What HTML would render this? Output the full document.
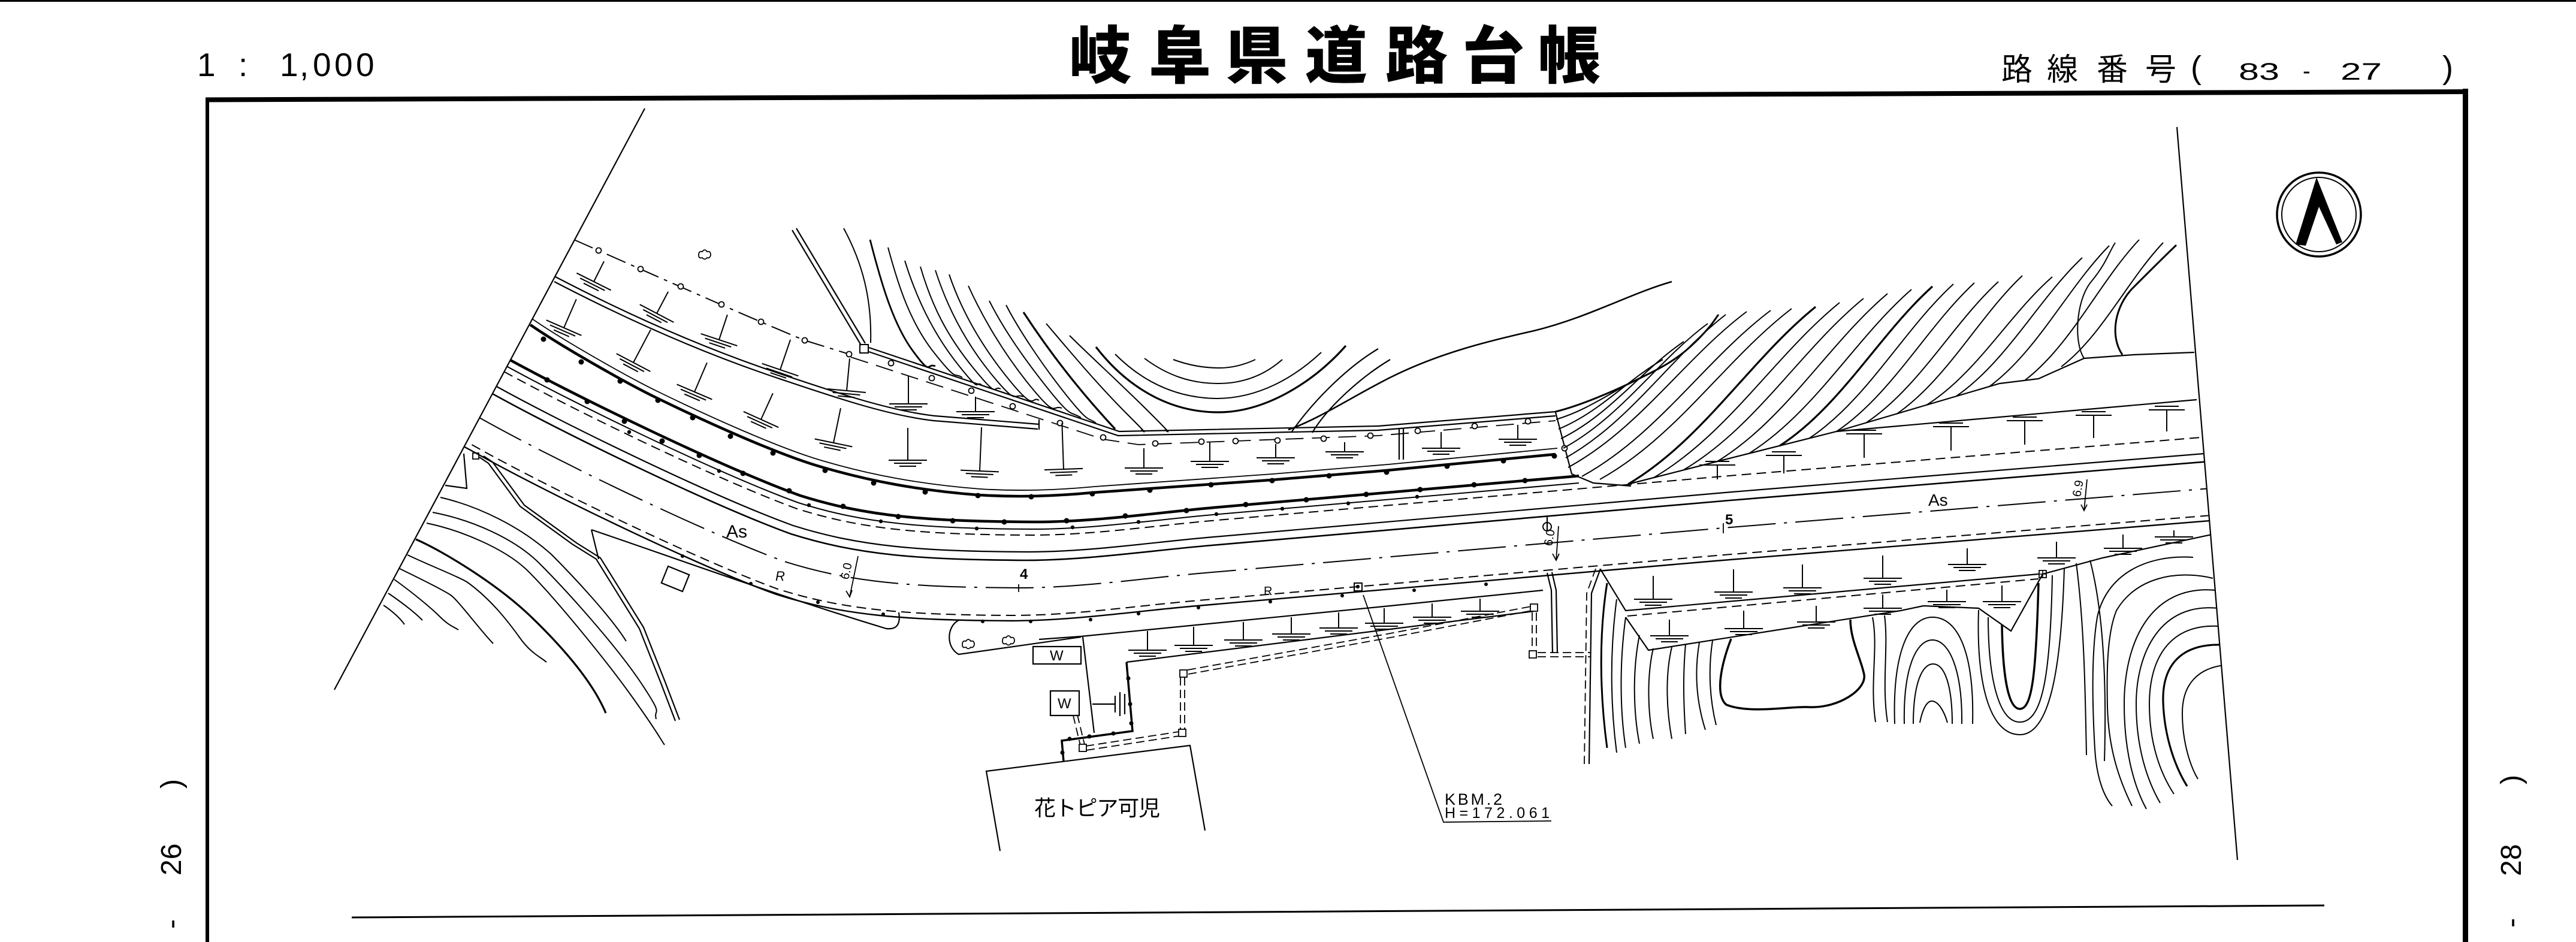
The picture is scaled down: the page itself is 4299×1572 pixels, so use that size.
<!DOCTYPE html>
<html><head><meta charset="utf-8">
<style>
html,body{margin:0;padding:0;background:#fff;width:4299px;height:1572px;overflow:hidden}
svg{display:block}
text{font-family:"Liberation Sans","Noto Sans CJK JP",sans-serif;fill:#000;stroke:none}
</style></head><body>
<svg width="4299" height="1572" viewBox="0 0 4299 1572" xmlns="http://www.w3.org/2000/svg" xmlns:xlink="http://www.w3.org/1999/xlink">
<defs>
<path id="cl" d="M600,590 L800,697 C930,770 1180,890 1309,937 C1420,972 1520,980 1700,981 C1800,981 1900,966 2000,957 L2876,881 L3800,806"/>
<clipPath id="cp"><polygon points="1119,100 3624,100 3739,1500 372,1500"/></clipPath>
<clipPath id="cpL"><rect x="0" y="0" width="2635" height="1572"/></clipPath>
</defs>
<rect width="4299" height="1572" fill="#fff"/>
<rect x="0" y="0" width="4299" height="3" fill="#000"/>

<!-- header -->
<text x="1784 1917 2045 2178 2312 2440 2567" y="130" font-size="104" font-weight="900">岐阜県道路台帳</text>
<text x="329 398 467 500 522 558 594" y="127" font-size="55">1:1,000</text>
<text x="3340 3416 3499 3580" y="134" font-size="52">路線番号</text>
<text x="3656" y="131" font-size="54">(</text>
<text x="3736" y="133" font-size="40" textLength="68" lengthAdjust="spacingAndGlyphs">83</text>
<text x="3843" y="131" font-size="38">-</text>
<text x="3906" y="133" font-size="40" textLength="69" lengthAdjust="spacingAndGlyphs">27</text>
<text x="4076" y="131" font-size="54">)</text>

<!-- frame -->
<g stroke="#000" fill="none">
<line x1="343" y1="166.5" x2="4119" y2="153" stroke-width="8"/>
<line x1="346" y1="163" x2="346" y2="1572" stroke-width="6"/>
<line x1="4114.5" y1="148" x2="4114.5" y2="1572" stroke-width="9"/>
<line x1="587" y1="1531" x2="3879" y2="1511" stroke-width="3"/>
<line x1="1076" y1="181" x2="558" y2="1151" stroke-width="2.2"/>
<line x1="3633" y1="212" x2="3734" y2="1435" stroke-width="2.2"/>
</g>

<text transform="translate(302,1560) rotate(-90)" font-size="48"><tspan x="10">-</tspan><tspan x="99">26</tspan><tspan x="244">)</tspan></text>
<text transform="translate(4207,1560) rotate(-90)" font-size="48"><tspan x="12">-</tspan><tspan x="98">28</tspan><tspan x="251">)</tspan></text>

<!-- north arrow -->
<g stroke="#000" fill="none">
<circle cx="3870" cy="358" r="70" stroke-width="3.5"/>
<circle cx="3870" cy="358" r="62" stroke-width="2"/>
</g>
<polygon points="3866,296 3909,404 3899,408 3870,345 3848,410 3831,408" fill="#000"/>

<g clip-path="url(#cp)" fill="none" stroke="#000" stroke-width="2.2">

<!-- road lines -->
<g clip-path="url(#cpL)">
<use href="#cl" xlink:href="#cl" transform="translate(26.4,-110)" stroke-width="4.5"/>
<use href="#cl" xlink:href="#cl" transform="translate(23.5,-98)" stroke-width="2"/>
</g>
<use href="#cl" xlink:href="#cl" transform="translate(21,-88)" stroke-width="2" stroke-dasharray="16 9"/>
<use href="#cl" xlink:href="#cl" transform="translate(14.4,-60)" stroke-width="2.2"/>
<use href="#cl" xlink:href="#cl" transform="translate(11,-46)" stroke-width="2.6"/>
<use href="#cl" xlink:href="#cl" stroke-width="2" stroke-dasharray="80 14 5 14"/>
<use href="#cl" xlink:href="#cl" transform="translate(-11,46)" stroke-width="2" stroke-dasharray="16 9"/>
<use href="#cl" xlink:href="#cl" transform="translate(-13.2,55)" stroke-width="2.4"/>

<!-- D dots -->
<g fill="#000" stroke="none">
<circle cx="913" cy="634" r="4.5"/><circle cx="980" cy="670" r="4.5"/><circle cx="1042" cy="703" r="4.5"/><circle cx="1105" cy="736" r="4.5"/><circle cx="1167" cy="760" r="4.5"/><circle cx="1240" cy="790" r="4.5"/><circle cx="1317" cy="819" r="4.5"/><circle cx="1407" cy="845" r="4.5"/><circle cx="1499" cy="862" r="4.5"/><circle cx="1590" cy="869" r="4.5"/><circle cx="1676" cy="871" r="4.5"/><circle cx="1780" cy="869" r="4.5"/><circle cx="1878" cy="861" r="4.5"/><circle cx="1980" cy="852" r="4.5"/><circle cx="2079" cy="842" r="4.5"/><circle cx="2180" cy="834" r="4.5"/><circle cx="2280" cy="825" r="4.5"/><circle cx="2370" cy="817" r="4.5"/><circle cx="2460" cy="809" r="4.5"/><circle cx="2545" cy="802" r="4.5"/>
<circle cx="1050" cy="721" r="3.2"/><circle cx="1200" cy="786" r="3.2"/><circle cx="1350" cy="843" r="3.2"/><circle cx="1470" cy="870" r="3.2"/><circle cx="1630" cy="882" r="3.2"/><circle cx="1790" cy="880" r="3.2"/><circle cx="1900" cy="871" r="3.2"/><circle cx="2030" cy="858" r="3.2"/><circle cx="2140" cy="849" r="3.2"/><circle cx="2250" cy="840" r="3.2"/><circle cx="2365" cy="829" r="3.2"/>
<circle cx="907" cy="566" r="4.5"/><circle cx="970" cy="604" r="4.5"/><circle cx="1035" cy="636" r="4.5"/><circle cx="1098" cy="668" r="4.5"/><circle cx="1156" cy="697" r="4.5"/><circle cx="1219" cy="728" r="4.5"/><circle cx="1290" cy="756" r="4.5"/><circle cx="1377" cy="785" r="4.5"/><circle cx="1458" cy="806" r="4.5"/><circle cx="1544" cy="821" r="4.5"/><circle cx="1632" cy="827" r="4.5"/><circle cx="1721" cy="829" r="4.5"/><circle cx="1823" cy="824" r="4.5"/><circle cx="1919" cy="818" r="4.5"/><circle cx="2021" cy="809" r="4.5"/><circle cx="2123" cy="802" r="4.5"/><circle cx="2218" cy="794" r="4.5"/><circle cx="2314" cy="788" r="4.5"/><circle cx="2415" cy="778" r="4.5"/><circle cx="2509" cy="769" r="4.5"/><circle cx="2594" cy="761" r="4.5"/>
<circle cx="1139" cy="928" r="3"/><circle cx="1253" cy="974" r="3"/><circle cx="1365" cy="1005" r="3"/><circle cx="1474" cy="1025" r="3"/><circle cx="1640" cy="1037" r="3"/><circle cx="1720" cy="1037" r="3"/><circle cx="1820" cy="1034" r="3"/><circle cx="1900" cy="1024" r="3"/><circle cx="2000" cy="1014" r="3"/><circle cx="2120" cy="1004" r="3"/><circle cx="2240" cy="994" r="3"/><circle cx="2360" cy="985" r="3"/><circle cx="2480" cy="975" r="3"/>
</g>

<!-- C line (upper guardrail) -->
<path d="M885,542 C940,580 1050,642 1098,665 C1170,700 1300,760 1377,781 C1450,802 1530,818 1633,826 C1700,830 1760,828 1824,822 L2121,801 L2314,785 L2596,758" stroke-width="4.5"/>
<path transform="translate(3,-10)" d="M885,542 C940,580 1050,642 1098,665 C1170,700 1300,760 1377,781 C1450,802 1530,818 1633,826 C1700,830 1760,828 1824,822 L2121,801 L2314,785 L2596,758" stroke-width="1.8"/>

<!-- B line (planter) -->
<path d="M927,462 C1000,500 1130,565 1285,618 C1380,650 1480,685 1560,694 L1734,708"/>
<path transform="translate(-2,8)" d="M927,462 C1000,500 1130,565 1285,618 C1380,650 1480,685 1560,694 L1734,708"/>
<path d="M1734,700 L1734,717"/>

<!-- fence -->
<path d="M958,400 C1060,445 1250,530 1343,568 L1417,591" stroke-dasharray="34 10 6 10" stroke-width="2"/>
<path d="M1450,580 L1868,720 L2300,711 L2596,687"/>
<path d="M1450,587 L1866,727 L2300,718 L2596,694"/>
<path d="M1420,596 L1841,733 L1900,742 L2300,727 L2596,702" stroke-dasharray="30 14" stroke-width="1.8"/>
<rect x="1435" y="575" width="14" height="14" stroke-width="2"/>
<path d="M1322,384 L1437,576 M1329,381 L1444,573"/>
<path d="M2596,688 L2623,791 L2659,806 L2722,811"/>
<path d="M2335,714 V767 M2342,714 V767"/>
<g fill="#fff" stroke-width="1.8">
<circle cx="999" cy="418" r="4.5"/><circle cx="1069" cy="449" r="4.5"/><circle cx="1136" cy="478" r="4.5"/><circle cx="1204" cy="508" r="4.5"/><circle cx="1270" cy="537" r="4.5"/><circle cx="1343" cy="568" r="4.5"/><circle cx="1417" cy="591" r="4.5"/>
<circle cx="1487" cy="606" r="4.5"/><circle cx="1555" cy="631" r="4.5"/><circle cx="1621" cy="652" r="4.5"/><circle cx="1690" cy="678" r="4.5"/><circle cx="1769" cy="706" r="4.5"/><circle cx="1841" cy="730" r="4.5"/><circle cx="1928" cy="740" r="4.5"/><circle cx="2005" cy="737" r="4.5"/><circle cx="2062" cy="736" r="4.5"/><circle cx="2132" cy="735" r="4.5"/><circle cx="2209" cy="732" r="4.5"/><circle cx="2287" cy="727" r="4.5"/><circle cx="2366" cy="719" r="4.5"/><circle cx="2461" cy="711" r="4.5"/><circle cx="2550" cy="703" r="4.5"/><circle cx="2611" cy="748" r="4.5"/>
</g>

<!-- T (ground) symbols north-left -->
<g stroke-width="2">
<path transform="translate(991,470) rotate(26.6)" d="M0,-38V0M-32,0h64M-23,5h46M-14,10h28"/>
<path transform="translate(1096,523) rotate(27.8)" d="M0,-41V0M-32,0h64M-23,5h46M-14,10h28"/>
<path transform="translate(1200,567) rotate(18.4)" d="M0,-44V0M-32,0h64M-23,5h46M-14,10h28"/>
<path transform="translate(1302,617) rotate(18.8)" d="M0,-53V0M-32,0h64M-23,5h46M-14,10h28"/>
<path transform="translate(1413,652) rotate(5.3)" d="M0,-54V0M-32,0h64M-23,5h46M-14,10h28"/>
<path transform="translate(1516,674)" d="M0,-47V0M-32,0h64M-23,5h46M-14,10h28"/>
<path transform="translate(1628,687)" d="M0,-25V0M-32,0h64M-23,5h46M-14,10h28"/>
<path transform="translate(941,547) rotate(23.6)" d="M0,-52V0M-32,0h64M-23,5h46M-14,10h28"/>
<path transform="translate(1057,605) rotate(27.8)" d="M0,-62V0M-32,0h64M-23,5h46M-14,10h28"/>
<path transform="translate(1159,654) rotate(23.2)" d="M0,-53V0M-32,0h64M-23,5h46M-14,10h28"/>
<path transform="translate(1270,700) rotate(24.4)" d="M0,-48V0M-32,0h64M-23,5h46M-14,10h28"/>
<path transform="translate(1391,739) rotate(11.7)" d="M0,-59V0M-32,0h64M-23,5h46M-14,10h28"/>
<path transform="translate(1515,768)" d="M0,-54V0M-32,0h64M-23,5h46M-14,10h28"/>
<path transform="translate(1635,786) rotate(2.4)" d="M0,-73V0M-32,0h64M-23,5h46M-14,10h28"/>
<path transform="translate(1775,783) rotate(-2)" d="M0,-77V0M-32,0h64M-23,5h46M-14,10h28"/>
<path transform="translate(1909,781)" d="M0,-33V0M-32,0h64M-23,5h46M-14,10h28"/>
<path transform="translate(2019,770)" d="M0,-32V0M-32,0h64M-23,5h46M-14,10h28"/>
<path transform="translate(2129,764)" d="M0,-23V0M-32,0h64M-23,5h46M-14,10h28"/>
<path transform="translate(2244,754)" d="M0,-16V0M-32,0h64M-23,5h46M-14,10h28"/>
<path transform="translate(2405,748)" d="M0,-27V0M-32,0h64M-23,5h46M-14,10h28"/>
<path transform="translate(2533,733)" d="M0,-24V0M-32,0h64M-23,5h46M-14,10h28"/>
</g>

<!-- north-right T zone -->
<path d="M2717,808 L2866,770 L3065,720 L3337,640 L3402,632 L3478,598 L3560,592 L3662,588"/>
<path d="M3065,720 L3666,667"/>
<g stroke-width="2">
<path transform="translate(2866,776)" d="M-30,0h60M-20,-6h40M0,0V24"/>
<path transform="translate(2977,760)" d="M-30,0h60M-20,-6h40M0,0V30"/>
<path transform="translate(3111,724)" d="M-30,0h60M-20,-6h40M0,0V40"/>
<path transform="translate(3256,712)" d="M-30,0h60M-20,-6h40M0,0V40"/>
<path transform="translate(3379,702)" d="M-30,0h60M-20,-6h40M0,0V40"/>
<path transform="translate(3494,693)" d="M-30,0h60M-20,-6h40M0,0V38"/>
<path transform="translate(3616,684)" d="M-30,0h60M-20,-6h40M0,0V36"/>
</g>

<!-- N3 contours -->
<g stroke-width="2">
<path d="M2597,700 C2656,682 2693,650 2744,628"/>
<path d="M2601,716 C2671,687 2714,635 2775,600"/>
<path d="M2605,732 C2687,692 2738,619 2810,570"/>
<path d="M2609,748 C2705,696 2766,602 2850,540"/>
<path d="M2613,764 C2720,704 2787,597 2880,525"/>
<path d="M2617,780 C2736,715 2811,598 2915,520"/>
<path d="M2640,795 C2766,726 2845,601 2955,518"/>
<path d="M2670,800 C2798,729 2878,601 2990,515"/>
<path d="M2717,808 C2842,734 2920,601 3030,512" stroke-width="3.2"/>
<path d="M2760,797 C2884,724 2962,593 3070,505"/>
<path d="M2810,784 C2930,713 3005,584 3110,498"/>
<path d="M2866,770 C2980,700 3051,574 3150,490"/>
<path d="M2920,756 C3028,688 3096,565 3190,483"/>
<path d="M2970,744 C3072,678 3136,558 3225,478" stroke-width="3.2"/>
<path d="M3020,731 C3116,667 3176,551 3260,474"/>
<path d="M3065,720 C3157,658 3215,546 3295,472"/>
<path d="M3115,705 C3203,646 3258,541 3335,470"/>
<path d="M3165,691 C3249,633 3302,529 3375,460"/>
<path d="M3215,676 C3299,623 3352,526 3425,462"/>
<path d="M3265,661 C3349,603 3402,499 3475,430"/>
<path d="M3320,645 C3400,586 3450,481 3520,410"/>
<path d="M3380,634 C3456,576 3504,470 3570,400"/>
<path d="M3440,612 C3508,560 3551,467 3610,405"/>
<path d="M3478,598 C3460,570 3465,500 3490,470 S3520,420 3530,405"/>
<path d="M3542,592 C3520,560 3530,510 3560,480 S3620,420 3632,409" stroke-width="3"/>
<path d="M2596,687 C2640,676 2700,650 2737,631 C2770,615 2800,600 2830,570 S2860,535 2868,525" stroke-width="3"/>
</g>

<!-- ridge & N2 -->
<path d="M2150,717 C2200,700 2260,660 2320,630 C2400,590 2480,570 2560,552 C2650,530 2720,490 2790,470" stroke-width="2.6"/>
<path d="M2300,582 C2250,612 2195,665 2156,720"/>
<path d="M2320,600 C2270,630 2215,680 2190,722"/>
<g stroke-width="2">
<path d="M1829,579 C1880,645 1950,688 2033,688 C2110,688 2190,640 2246,577" stroke-width="3.2"/>
<path d="M1861,591 C1905,635 1960,664 2030,665 C2100,665 2160,630 2205,588"/>
<path d="M1910,598 C1950,628 1990,640 2033,640 C2080,640 2115,622 2140,600"/>
<path d="M1958,600 C1985,610 2010,614 2035,614 C2060,614 2080,607 2095,600"/>
<path d="M1408,381 C1440,440 1455,500 1453,572"/>
<path d="M1452,400 C1470,470 1490,540 1523,585 S1545,605 1561,611" stroke-width="2.8"/>
<path d="M1482,413 C1500,480 1520,540 1560,590 S1590,620 1606,630"/>
<path d="M1510,435 C1530,500 1560,560 1600,610 S1625,635 1638,642"/>
<path d="M1536,445 C1555,510 1580,560 1625,615 S1655,642 1670,649"/>
<path d="M1561,451 C1580,510 1610,570 1655,625 S1690,655 1708,662"/>
<path d="M1584,458 C1605,520 1640,580 1685,635 S1720,660 1734,668"/>
<path d="M1616,477 C1640,530 1675,590 1720,645 S1755,675 1772,681"/>
<path d="M1651,502 C1675,550 1710,600 1750,650 S1785,685 1804,697"/>
<path d="M1679,509 C1700,550 1740,610 1780,660 S1815,695 1829,706"/>
<path d="M1708,521 C1740,570 1790,640 1861,716" stroke-width="3.2"/>
<path d="M1746,540 C1780,580 1830,640 1880,690 S1900,712 1906,719"/>
<path d="M1785,560 C1820,595 1870,640 1920,690 S1940,712 1944,719"/>
</g>

<!-- lower-left -->
<path d="M987,884 C1100,922 1300,995 1479,1049 Q1505,1052 1500,1022"/>
<path d="M987,884 L999,933"/>
<path d="M800,763 L815,773 L868,845 L955,908 L995,933 L1067,1049 L1103,1140 L1127,1203"/>
<path transform="translate(7,-2)" d="M800,763 L815,773 L868,845 L955,908 L995,933 L1067,1049 L1103,1140 L1127,1203"/>
<path d="M774,757 L779,815 L743,810"/>
<rect x="789" y="756" width="10" height="10" stroke-width="1.8"/>
<rect x="-19" y="-15" width="38" height="30" transform="translate(1127,966) rotate(22)"/>
<g stroke-width="2">
<path d="M694,900 C740,920 830,975 886,1029 S990,1140 1011,1190" stroke-width="3.2"/>
<path d="M712,873 C770,885 840,915 877,949 C920,990 1010,1100 1055,1163 S1100,1230 1109,1243"/>
<path d="M722,855 C790,868 860,900 900,940 C950,990 1030,1080 1070,1140 S1090,1180 1095,1200"/>
<path d="M735,830 C800,845 870,880 920,925 C960,965 1020,1030 1045,1070"/>
<path d="M680,926 C720,945 760,960 779,971 C820,1000 850,1040 868,1065 S900,1095 912,1105"/>
<path d="M667,949 C700,965 740,985 752,993 S800,1050 823,1074"/>
<path d="M658,967 C690,990 720,1015 734,1029 S755,1045 765,1051"/>
<path d="M648,990 C670,1005 690,1020 705,1035"/>
<path d="M640,1010 C655,1020 668,1032 675,1042"/>
</g>

<!-- south-left: bulb, T zone, yard -->
<path d="M1600,1035 C1580,1045 1578,1080 1600,1092 L1804,1063"/>
<path d="M1804,1062 L2320,1011 L2575,985"/>
<path d="M1880,1105 L2320,1050 L2560,1020"/>
<g stroke-width="2">
<path transform="translate(1915,1085)" d="M0,-32V0M-32,0h64M-23,5h46M-14,10h28"/>
<path transform="translate(1992,1077)" d="M0,-31V0M-32,0h64M-23,5h46M-14,10h28"/>
<path transform="translate(2075,1068)" d="M0,-30V0M-32,0h64M-23,5h46M-14,10h28"/>
<path transform="translate(2155,1058)" d="M0,-28V0M-32,0h64M-23,5h46M-14,10h28"/>
<path transform="translate(2234,1048)" d="M0,-26V0M-32,0h64M-23,5h46M-14,10h28"/>
<path transform="translate(2310,1040)" d="M0,-25V0M-32,0h64M-23,5h46M-14,10h28"/>
<path transform="translate(2390,1030)" d="M0,-23V0M-32,0h64M-23,5h46M-14,10h28"/>
<path transform="translate(2470,1020)" d="M0,-21V0M-32,0h64M-23,5h46M-14,10h28"/>
</g>
<g stroke-width="1.8">
<path transform="translate(1616,1076)" d="M-10,0q0,-8 6,-6q4,-6 8,0q6,-2 6,6q-2,6 -6,4q-4,5 -8,0q-6,2 -6,-4z"/>
<path transform="translate(1683,1070)" d="M-10,0q0,-8 6,-6q4,-6 8,0q6,-2 6,6q-2,6 -6,4q-4,5 -8,0q-6,2 -6,-4z"/>
<path transform="translate(1176,426)" d="M-10,0q0,-8 6,-6q4,-6 8,0q6,-2 6,6q-2,6 -6,4q-4,5 -8,0q-6,2 -6,-4z"/>
</g>
<path d="M1734,1067 L1804,1062"/>
<rect x="1724" y="1079" width="80" height="29"/>
<rect x="1753" y="1153" width="48" height="41"/>
<path d="M1807,1063 L1826,1223"/>
<path d="M1880,1105 L1890,1220 L1772,1236 L1775,1271" stroke-width="3.5"/>
<path d="M1823,1175 H1861 M1861,1161 V1189 M1869,1155 V1195 M1877,1158 V1192"/>
<g fill="#000" stroke="none">
<circle cx="1883" cy="1132" r="3.5"/><circle cx="1886" cy="1175" r="3.5"/><circle cx="1888" cy="1207" r="3.5"/><circle cx="1858" cy="1224" r="3.5"/><circle cx="1818" cy="1229" r="3.5"/><circle cx="1785" cy="1233" r="3.5"/><circle cx="1773" cy="1256" r="3.5"/>
</g>
<g stroke-width="1.8" stroke-dasharray="14 7">
<path d="M1791,1194 L1804,1248 M1798,1193 L1811,1247"/>
<path d="M1812,1245 L1968,1221 M1813,1252 L1969,1228"/>
<path d="M1970,1130 L1970,1218 M1977,1130 L1977,1218"/>
<path d="M1982,1118 L2320,1057 L2555,1012 M1983,1125 L2320,1064 L2556,1019"/>
<path d="M2557,1022 L2557,1088 M2564,1022 L2564,1088"/>
<path d="M2566,1089 L2654,1089 M2566,1096 L2654,1096"/>
<path d="M2663,949 L2648,990 L2644,1275"/>
</g>
<g stroke-width="1.8" fill="#fff">
<rect x="1801" y="1242" width="12" height="12"/><rect x="1967" y="1217" width="12" height="12"/><rect x="1969" y="1118" width="12" height="12"/><rect x="2554" y="1008" width="12" height="12"/><rect x="2552" y="1086" width="12" height="12"/>
</g>
<path d="M2582,956 L2589,985 L2591,1090 M2590,955 L2597,985 L2599,1090"/>
<path d="M2671,949 L2656,990 L2652,1275"/>

<!-- building -->
<path d="M1669,1420 L1646,1287 L1986,1244 L2011,1386"/>

<!-- KBM -->
<rect x="2260" y="973" width="13" height="13" stroke-width="2"/>
<circle cx="2266" cy="979" r="2" fill="#000"/>
<path d="M2275,993 L2409,1372 L2589,1370" stroke-width="1.8"/>

<!-- south-right zone -->
<path d="M2671,950 L2713,1019 L3402,958"/>
<path d="M2716,1028 L3402,966" stroke-dasharray="16 9" stroke-width="2"/>
<path d="M2713,1030 L2751,1085 L3172,1019 L3210,1011 L3302,1015 L3356,1053 L3409,958 L3509,931 L3691,892"/>
<rect x="3403" y="952" width="12" height="12" stroke-width="1.8"/>
<path d="M3409,952 V964 M3403,958 H3415" stroke-width="1.5"/>
<g stroke-width="2">
<path transform="translate(2759,1000)" d="M0,-39V0M-32,0h64M-23,5h46M-14,10h28"/>
<path transform="translate(2893,988)" d="M0,-38V0M-32,0h64M-23,5h46M-14,10h28"/>
<path transform="translate(3008,981)" d="M0,-39V0M-32,0h64M-23,5h46M-14,10h28"/>
<path transform="translate(3142,965)" d="M0,-38V0M-32,0h64M-23,5h46M-14,10h28"/>
<path transform="translate(3283,942)" d="M0,-27V0M-32,0h64M-23,5h46M-14,10h28"/>
<path transform="translate(3432,931)" d="M0,-27V0M-32,0h64M-23,5h46M-14,10h28"/>
<path transform="translate(3543,915)" d="M0,-23V0M-32,0h64M-23,5h46M-14,10h28"/>
<path transform="translate(3628,896)" d="M0,-11V0M-32,0h64M-23,5h46M-14,10h28"/>
<path transform="translate(2786,1061)" d="M0,-27V0M-32,0h64M-23,5h46M-14,10h28"/>
<path transform="translate(2910,1049)" d="M0,-30V0M-32,0h64M-23,5h46M-14,10h28"/>
<path transform="translate(3031,1038)" d="M0,-27V0M-32,0h64M-23,5h46M-14,10h28"/>
<path transform="translate(3142,1015)" d="M0,-23V0M-32,0h64M-23,5h46M-14,10h28"/>
<path transform="translate(3249,1004)" d="M0,-20V0M-32,0h64M-23,5h46M-14,10h28"/>
<path transform="translate(3341,1004)" d="M0,-27V0M-32,0h64M-23,5h46M-14,10h28"/>
</g>

<!-- S1 contours -->
<g stroke-width="2">
<path d="M2682,973 C2668,1060 2670,1160 2682,1248" stroke-width="3"/>
<path d="M2698,1000 C2686,1090 2688,1180 2698,1256"/>
<path d="M2713,1030 C2702,1110 2704,1190 2713,1248"/>
<path d="M2736,1060 C2724,1120 2726,1190 2736,1241"/>
<path d="M2759,1082 C2748,1130 2750,1190 2759,1233"/>
<path d="M2790,1080 C2778,1130 2782,1190 2790,1233"/>
<path d="M2813,1075 C2808,1130 2810,1180 2813,1225"/>
<path d="M2836,1072 C2826,1130 2834,1180 2846,1218"/>
<path d="M2858,1069 C2850,1120 2854,1170 2864,1210"/>
<path d="M2889,1066 C2872,1110 2862,1160 2881,1176 C2920,1192 2990,1178 3019,1180 C3070,1182 3115,1150 3111,1126 C3106,1100 3088,1068 3088,1034" stroke-width="3.5"/>
<path d="M3125,1030 C3135,1080 3120,1140 3130,1205"/>
<path d="M3145,1027 C3152,1080 3140,1140 3150,1205"/>
<path d="M3162,1208 C3158,1090 3185,1030 3225,1030 C3268,1030 3295,1090 3292,1208"/>
<path d="M3178,1208 C3176,1115 3198,1068 3225,1068 C3252,1068 3275,1115 3274,1208"/>
<path d="M3193,1208 C3193,1140 3208,1108 3226,1108 C3244,1108 3258,1140 3258,1208"/>
<path d="M3204,1206 C3208,1185 3215,1170 3224,1170 C3234,1170 3244,1185 3250,1206"/>
<path d="M3341,1042 C3342,1120 3350,1183 3371,1183 C3392,1183 3398,1120 3402,973" stroke-width="3.5"/>
<path d="M3318,1030 C3318,1130 3335,1205 3371,1205 C3410,1205 3422,1120 3425,960"/>
<path d="M3302,1018 C3298,1140 3320,1226 3371,1226 C3420,1226 3440,1120 3445,948"/>
<path d="M3465,940 C3478,1040 3480,1150 3482,1260"/>
<path d="M3488,935 C3505,1000 3517,1100 3512,1270"/>
<path d="M3660,930 C3580,925 3515,960 3500,1030 C3490,1090 3492,1180 3496,1250 C3499,1300 3512,1330 3525,1345"/>
<path d="M3693,965 C3631,950 3563,965 3532,1019 C3515,1060 3516,1133 3517,1180 C3519,1250 3536,1300 3558,1345"/>
<path d="M3698,985 C3590,975 3545,1070 3545,1175 C3545,1250 3560,1310 3582,1350"/>
<path d="M3702,1015 C3605,1005 3565,1090 3565,1175 C3565,1245 3582,1300 3605,1340"/>
<path d="M3705,1045 C3620,1040 3587,1100 3587,1175 C3587,1240 3605,1290 3628,1325"/>
<path d="M3708,1076 C3640,1074 3608,1110 3610,1172 C3612,1230 3630,1280 3650,1312" stroke-width="3.2"/>
<path d="M3712,1110 C3670,1115 3642,1140 3642,1190 C3642,1240 3656,1280 3668,1300"/>
</g>

<!-- small symbols -->
<circle cx="2582" cy="879" r="7" stroke-width="2"/>
<path d="M2582,862 V886"/>
<path d="M1432,928 L1418,996 M1412,986 L1418,996 L1422,985" stroke-width="1.8"/>
<path d="M2601,878 L2597,935 M2591,924 L2597,935 L2602,924" stroke-width="1.8"/>
<path d="M3483,800 L3478,852 M3473,842 L3478,852 L3483,842" stroke-width="1.8"/>
</g>

<!-- labels -->
<text x="1212" y="897" font-size="30">As</text>
<text x="3218" y="844" font-size="28">As</text>
<text x="1294" y="969" font-size="22" font-style="italic">R</text>
<text x="2109" y="993" font-size="20">R</text>
<text x="1702" y="966" font-size="24" font-weight="bold">4</text>
<line x1="1700" y1="975" x2="1700" y2="988" stroke="#000" stroke-width="1.8"/>
<text x="2879" y="875" font-size="24" font-weight="bold">5</text>
<line x1="2876" y1="873" x2="2876" y2="890" stroke="#000" stroke-width="1.8"/>
<text x="2411" y="1343" font-size="27" textLength="96" lengthAdjust="spacing">KBM.2</text>
<text x="2411" y="1365" font-size="25" textLength="175" lengthAdjust="spacing">H=172.061</text>
<text x="1726" y="1361" font-size="36" textLength="210" lengthAdjust="spacing">花トピア可児</text>
<text x="1752" y="1102" font-size="24">W</text>
<text x="1765" y="1182" font-size="24">W</text>
<text transform="translate(1416,968) rotate(-78)" font-size="20">6.0</text>
<text transform="translate(2590,912) rotate(-80)" font-size="20">6.0</text>
<text transform="translate(3472,830) rotate(-80)" font-size="20">6.9</text>
</svg>
</body></html>
